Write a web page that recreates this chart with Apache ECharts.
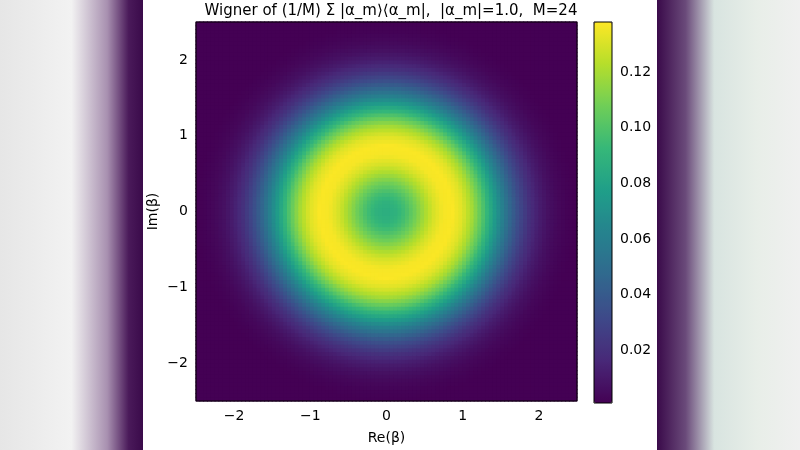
<!DOCTYPE html>
<html>
<head>
<meta charset="utf-8">
<script src="https://cdn.jsdelivr.net/npm/echarts@6/dist/echarts.min.js"></script>
<style>html,body{margin:0;padding:0;background:#fff}#chart{width:800px;height:450px}</style>
</head>
<body>
<div id="chart"></div>
<script>
var radii   = [0, 0.125, 0.25, 0.375, 0.5, 0.625, 0.75, 0.875, 1.0, 1.125, 1.25, 1.375, 1.5, 1.625, 1.75, 1.875, 2.0, 2.125, 2.25, 2.375, 2.5, 2.625, 2.75, 2.875, 3.0, 3.6];
var wValues = [0.086, 0.0888, 0.0962, 0.1071, 0.119, 0.1297, 0.1365, 0.1375, 0.1317, 0.1198, 0.1032, 0.0838, 0.0644, 0.0466, 0.0318, 0.0204, 0.0124, 0.0071, 0.0038, 0.0019, 0.0009, 0.00045, 0.0002, 0.0001, 0.00004, 0];
var axisTicks = [-2, -1, 0, 1, 2];
var barTicks = [0.02, 0.04, 0.06, 0.08, 0.10, 0.12];
var viridis = ['#440154','#482878','#3e4989','#31688e','#26828e','#1f9e89','#35b779','#6ece58','#b5de2b','#fde725'];

var step = 0.05;
function profile(r) {
    for (var i = 1; i < radii.length; i++) {
        if (r <= radii[i]) {
            var t = (r - radii[i-1]) / (radii[i] - radii[i-1]);
            return wValues[i-1] + t * (wValues[i] - wValues[i-1]);
        }
    }
    return 0;
}
var cells = [];
for (var x = -2.5 + step/2; x < 2.5; x += step) {
    for (var y = -2.5 + step/2; y < 2.5; y += step) {
        cells.push([x, y, profile(Math.sqrt(x*x + y*y))]);
    }
}
var fmt = function (v) { return String(v).replace('-', '\u2212'); };
var font = 'DejaVu Sans';

var chart = echarts.init(document.getElementById('chart'));
chart.setOption({
    backgroundColor: '#fff',
    animation: false,
    graphic: [
        {type: 'rect', shape: {x: 0, y: 0, width: 143, height: 450}, z: -10,
         style: {fill: new echarts.graphic.LinearGradient(0, 0, 1, 0, [
            {offset: 0, color: '#e6e6e6'}, {offset: 0.5, color: '#f2f2f2'},
            {offset: 0.75, color: '#a890b0'}, {offset: 0.9, color: '#4a1a5a'}, {offset: 1, color: '#3a0a4a'}])}},
        {type: 'rect', shape: {x: 657, y: 0, width: 143, height: 450}, z: -10,
         style: {fill: new echarts.graphic.LinearGradient(0, 0, 1, 0, [
            {offset: 0, color: '#3a0a4a'}, {offset: 0.2, color: '#6a4a7a'},
            {offset: 0.4, color: '#d8e4e0'}, {offset: 0.7, color: '#e8eee8'}, {offset: 1, color: '#f0f0f0'}])}}
    ],
    title: {
        text: 'Wigner of (1/M) \u03a3 |\u03b1_m\u27e9\u27e8\u03b1_m|,  |\u03b1_m|=1.0,  M=24',
        left: 386, top: -1, textAlign: 'center',
        textStyle: {fontFamily: font, fontSize: 15, fontWeight: 'normal', color: '#000'}
    },
    grid: [
        {left: 196, top: 22, width: 381, height: 381, show: true, borderColor: '#000', borderWidth: 1, backgroundColor: 'transparent', z: 5},
        {left: 594, top: 22, width: 18, height: 381, show: true, borderColor: '#000', borderWidth: 1, backgroundColor: 'transparent', z: 5}
    ],
    xAxis: [
        {type: 'value', gridIndex: 0, min: -2.5, max: 2.5, name: 'Re(\u03b2)', nameLocation: 'middle', nameGap: 30,
         nameTextStyle: {fontFamily: font, fontSize: 14, color: '#000'},
         axisLine: {show: false}, splitLine: {show: false},
         axisTick: {show: true, length: 4, lineStyle: {color: '#000'}, customValues: axisTicks},
         axisLabel: {fontFamily: font, fontSize: 14, color: '#000', customValues: axisTicks, formatter: fmt}},
        {type: 'value', gridIndex: 1, min: 0, max: 1, show: false}
    ],
    yAxis: [
        {type: 'value', gridIndex: 0, min: -2.5, max: 2.5, name: 'Im(\u03b2)', nameLocation: 'middle', nameGap: 36,
         nameTextStyle: {fontFamily: font, fontSize: 14, color: '#000'},
         axisLine: {show: false}, splitLine: {show: false},
         axisTick: {show: true, length: 4, lineStyle: {color: '#000'}, customValues: axisTicks},
         axisLabel: {fontFamily: font, fontSize: 14, color: '#000', customValues: axisTicks, formatter: fmt}},
        {type: 'value', gridIndex: 1, min: 0.001, max: 0.138, position: 'right',
         axisLine: {show: false}, splitLine: {show: false},
         axisTick: {show: true, length: 4, lineStyle: {color: '#000'}, customValues: barTicks},
         axisLabel: {fontFamily: font, fontSize: 14, color: '#000', customValues: barTicks,
                     formatter: function (v) { return v.toFixed(2); }}}
    ],
    visualMap: {
        type: 'continuous', min: 0.001, max: 0.138, dimension: 2, seriesIndex: 0,
        left: 594, top: 22, itemWidth: 18, itemHeight: 381, padding: 0, calculable: false,
        text: null, showLabel: false, realtime: false, hoverLink: false, z: 1,
        inRange: {color: viridis}, outOfRange: {color: '#440154'}
    },
    series: [{
        type: 'custom', xAxisIndex: 0, yAxisIndex: 0, data: cells, silent: true,
        encode: {x: 0, y: 1},
        renderItem: function (params, api) {
            var p0 = api.coord([api.value(0) - step/2, api.value(1) + step/2]);
            var p1 = api.coord([api.value(0) + step/2, api.value(1) - step/2]);
            return {type: 'rect',
                shape: {x: p0[0] - 0.5, y: p0[1] - 0.5, width: p1[0] - p0[0] + 1, height: p1[1] - p0[1] + 1},
                style: {fill: api.visual('color')}};
        }
    }]
});
</script>
</body>
</html>
